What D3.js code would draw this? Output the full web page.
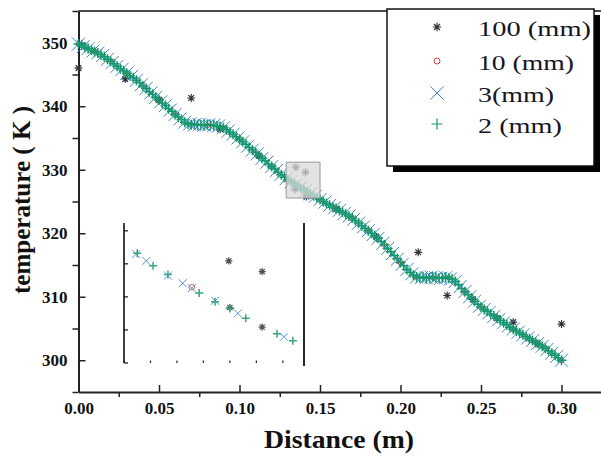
<!DOCTYPE html>
<html>
<head>
<meta charset="utf-8">
<script src="https://cdn.jsdelivr.net/npm/d3@7"></script>
<style>
  html, body { margin: 0; padding: 0; background: #fff; }
  svg { display: block; }
</style>
</head>
<body>
<svg id="chart" width="601" height="457"></svg>
<script>
// Temperature along the rod for four mesh sizes
const xTicks = [0, 0.05, 0.10, 0.15, 0.20, 0.25, 0.30];
const xMinorTicks = [0.025, 0.075, 0.125, 0.175, 0.225, 0.275, 0.325];
const yTicks = [300, 310, 320, 330, 340, 350];
const yMinorTicks = [295, 305, 315, 325, 335, 345, 355];
const seriesNames = ["100 (mm)", "10 (mm)", "3(mm)", "2 (mm)"];

// 3 mm mesh (node spacing 0.003 m)
const dist3 = [0.000,0.003,0.006,0.009,0.012,0.015,0.018,0.021,0.024,0.027,
  0.030,0.033,0.036,0.039,0.042,0.045,0.048,0.051,0.054,0.057,
  0.060,0.063,0.066,0.069,0.072,0.075,0.078,0.081,0.084,0.087,
  0.090,0.093,0.096,0.099,0.102,0.105,0.108,0.111,0.114,0.117,
  0.120,0.123,0.126,0.129,0.132,0.135,0.138,0.141,0.144,0.147,
  0.150,0.153,0.156,0.159,0.162,0.165,0.168,0.171,0.174,0.177,
  0.180,0.183,0.186,0.189,0.192,0.195,0.198,0.201,0.204,0.207,
  0.210,0.213,0.216,0.219,0.222,0.225,0.228,0.231,0.234,0.237,
  0.240,0.243,0.246,0.249,0.252,0.255,0.258,0.261,0.264,0.267,
  0.270,0.273,0.276,0.279,0.282,0.285,0.288,0.291,0.294,0.297,
  0.300];
const temp3 = [349.8,349.4,349.1,348.7,348.4,348.0,347.4,346.9,346.3,345.8,
  345.2,344.7,344.1,343.4,342.8,342.1,341.4,340.7,340.1,339.4,
  338.7,338.0,337.5,337.2,337.1,337.1,337.0,337.1,337.0,336.9,
  336.6,336.1,335.6,335.0,334.4,333.7,333.1,332.5,331.8,331.2,
  330.5,329.9,329.3,328.6,328.1,327.6,327.2,326.7,326.2,325.8,
  325.3,324.9,324.4,324.0,323.6,323.1,322.7,322.2,321.6,321.0,
  320.4,319.8,319.2,318.4,317.6,316.8,315.9,315.1,314.3,313.6,
  313.1,313.0,313.0,313.1,313.0,312.9,313.0,312.8,312.4,311.6,
  310.8,310.0,309.3,308.5,308.0,307.5,306.9,306.4,305.9,305.4,
  304.9,304.4,304.0,303.5,303.1,302.6,302.2,301.7,301.1,300.6,
  300.0];

// 2 mm mesh (node spacing 0.002 m)
const dist2 = [0.000,0.002,0.004,0.006,0.008,0.010,0.012,0.014,0.016,0.018,
  0.020,0.022,0.024,0.026,0.028,0.030,0.032,0.034,0.036,0.038,
  0.040,0.042,0.044,0.046,0.048,0.050,0.052,0.054,0.056,0.058,
  0.060,0.062,0.064,0.066,0.068,0.070,0.072,0.074,0.076,0.078,
  0.080,0.082,0.084,0.086,0.088,0.090,0.092,0.094,0.096,0.098,
  0.100,0.102,0.104,0.106,0.108,0.110,0.112,0.114,0.116,0.118,
  0.120,0.122,0.124,0.126,0.128,0.130,0.132,0.134,0.136,0.138,
  0.140,0.142,0.144,0.146,0.148,0.150,0.152,0.154,0.156,0.158,
  0.160,0.162,0.164,0.166,0.168,0.170,0.172,0.174,0.176,0.178,
  0.180,0.182,0.184,0.186,0.188,0.190,0.192,0.194,0.196,0.198,
  0.200,0.202,0.204,0.206,0.208,0.210,0.212,0.214,0.216,0.218,
  0.220,0.222,0.224,0.226,0.228,0.230,0.232,0.234,0.236,0.238,
  0.240,0.242,0.244,0.246,0.248,0.250,0.252,0.254,0.256,0.258,
  0.260,0.262,0.264,0.266,0.268,0.270,0.272,0.274,0.276,0.278,
  0.280,0.282,0.284,0.286,0.288,0.290,0.292,0.294,0.296,0.298,
  0.300];
const temp2 = [349.8,349.6,349.3,349.1,348.8,348.6,348.4,348.1,347.8,347.4,
  347.1,346.7,346.3,345.9,345.6,345.2,344.8,344.5,344.1,343.7,
  343.2,342.8,342.3,341.9,341.4,341.0,340.5,340.1,339.6,339.2,
  338.7,338.3,337.9,337.5,337.2,337.1,337.2,337.0,337.1,337.0,
  337.1,337.0,337.0,336.9,336.8,336.6,336.3,335.9,335.6,335.2,
  334.8,334.4,334.0,333.5,333.1,332.7,332.2,331.8,331.4,330.9,
  330.5,330.1,329.6,329.2,328.8,328.4,328.1,327.8,327.5,327.1,
  326.8,326.5,326.2,325.9,325.6,325.3,325.0,324.7,324.4,324.1,
  323.9,323.6,323.3,323.0,322.7,322.4,322.0,321.6,321.2,320.8,
  320.4,320.0,319.6,319.2,318.7,318.2,317.6,317.1,316.5,316.0,
  315.4,314.9,314.3,313.8,313.4,313.1,313.0,313.1,312.9,313.0,
  313.1,313.0,312.9,313.0,313.1,312.9,312.8,312.4,311.9,311.3,
  310.8,310.3,309.8,309.3,308.8,308.4,308.0,307.7,307.3,307.0,
  306.6,306.3,305.9,305.6,305.2,304.9,304.6,304.3,304.0,303.7,
  303.4,303.1,302.8,302.5,302.2,301.9,301.5,301.1,300.8,300.4,
  300.0];

// 10 mm mesh
const dist10 = [0.00,0.01,0.02,0.03,0.04,0.05,0.06,0.07,0.08,0.09,0.10,
  0.11,0.12,0.13,0.14,0.15,0.16,0.17,0.18,0.19,0.20,
  0.21,0.22,0.23,0.24,0.25,0.26,0.27,0.28,0.29,0.30];
const temp10 = [349.8,348.6,347.1,345.2,343.2,341.0,338.7,337.1,337.0,336.6,334.8,
  332.6,330.5,328.4,326.9,325.3,323.9,322.4,320.4,318.2,315.4,
  313.1,313.0,313.0,310.8,308.4,306.6,304.9,303.4,301.9,300.0];

// 100 mm mesh
const dist100 = [0.000,0.029,0.050,0.070,0.088,0.112,0.1345,0.135,0.141,0.1415,
  0.160,0.185,0.211,0.229,0.245,0.260,0.270,0.285,0.300];
const temp100 = [346.0,344.3,341.0,341.3,336.4,332.2,327.0,330.4,329.6,325.8,
  323.8,319.4,317.0,310.2,309.6,306.6,306.0,302.6,305.7];

// highlighted window on the curve
const zoomBoxX = [0.129, 0.150];
const zoomBoxT = [325.55, 331.2];

// magnified detail view
const insetX = [0.115, 0.149];
const insetT = [324.6, 331.8];
const insetXTicks = [0.115, 0.120, 0.125, 0.130, 0.135, 0.140, 0.145];
const insetTTicks = [324.6, 326.3, 328.0, 329.7, 331.4];
const insetDist100 = [0.1348, 0.1350, 0.1411, 0.1411];
const insetTemp100 = [329.85, 327.45, 329.3, 326.45];
const insetDist10 = [0.1278];
const insetTemp10 = [328.5];
const insetDist3 = [0.1173, 0.1192, 0.1233, 0.1261, 0.1278, 0.1322, 0.1365, 0.1452];
const insetTemp3 = [330.2, 329.85, 329.1, 328.7, 328.45, 327.8, 327.15, 325.95];
const insetDist2 = [0.1175, 0.1205, 0.1233, 0.1292, 0.1322, 0.1350, 0.1380, 0.1439, 0.1469];
const insetTemp2 = [330.25, 329.6, 329.15, 328.2, 327.75, 327.4, 326.9, 326.1, 325.75];

const serif = "'Liberation Serif','Times New Roman',serif";
const svg = d3.select("#chart");

const x = d3.scaleLinear().domain([0, 0.33]).range([78.5, 609.8]);
const y = d3.scaleLinear().domain([295, 355]).range([392, 11]);

// marker glyphs
const crossPath = s => `M${-s},${-s}L${s},${s}M${-s},${s}L${s},${-s}`;
const plusPath = s => `M${-s},0L${s},0M0,${-s}L0,${s}`;
const circlePath = r => `M${r},0A${r},${r} 0 1,1 ${-r},0A${r},${r} 0 1,1 ${r},0Z`;
const starPath = s => {
  const d = s * 0.72;
  return `M${-s},0L${s},0M0,${-s}L0,${s}M${-d},${-d}L${d},${d}M${-d},${d}L${d},${-d}`;
};

const styles = [
  { color: "#333333", width: 1.2, d: starPath(4),  inset: starPath(3.6), legend: starPath(4.2) },
  { color: "#d8453f", width: 1.0, d: circlePath(2.4), inset: circlePath(2.8), legend: circlePath(3) },
  { color: "#3c84d6", width: 1.0, d: crossPath(6.5), inset: crossPath(4), legend: crossPath(6.5) },
  { color: "#149868", width: 1.5, d: plusPath(5),  inset: plusPath(4), legend: plusPath(5.5) }
];
const seriesData = [
  d3.zip(dist100, temp100),
  d3.zip(dist10, temp10),
  d3.zip(dist3, temp3),
  d3.zip(dist2, temp2)
];
const insetData = [
  d3.zip(insetDist100, insetTemp100),
  d3.zip(insetDist10, insetTemp10),
  d3.zip(insetDist3, insetTemp3),
  d3.zip(insetDist2, insetTemp2)
];

// ---- axes ----
const axisColor = "#222";

const gy = svg.append("g").attr("transform", `translate(${x(0)},0)`);
gy.call(d3.axisLeft(y).tickValues(yTicks).tickSize(-7).tickSizeOuter(0)
  .tickPadding(11).tickFormat(d3.format("d")));
gy.call(g => g.select(".domain").attr("stroke", axisColor).attr("stroke-width", 2));
svg.append("g").attr("transform", `translate(${x(0)},0)`)
  .call(d3.axisLeft(y).tickValues(yMinorTicks).tickSize(6).tickFormat(""))
  .call(g => g.select(".domain").remove());

const gx = svg.append("g").attr("transform", `translate(0,${y(295)})`);
gx.call(d3.axisBottom(x).tickValues(xTicks).tickSize(-7).tickSizeOuter(0)
  .tickPadding(10).tickFormat(d3.format(".2f")));
gx.call(g => g.select(".domain").attr("stroke", axisColor).attr("stroke-width", 2));
svg.append("g").attr("transform", `translate(0,${y(295)})`)
  .call(d3.axisBottom(x).tickValues(xMinorTicks).tickSize(5).tickFormat(""))
  .call(g => g.select(".domain").remove());

svg.selectAll(".tick line").attr("stroke", axisColor).attr("stroke-width", 1.5);
svg.selectAll(".tick text")
  .attr("font-family", serif).attr("font-size", 17).attr("font-weight", "bold")
  .attr("fill", "#111");

// top frame line
svg.append("line")
  .attr("x1", x(0)).attr("x2", 601).attr("y1", y(355)).attr("y2", y(355))
  .attr("stroke", "#111").attr("stroke-width", 1.6);

// axis titles
svg.append("text")
  .attr("transform", "translate(30,200) rotate(-90)")
  .attr("text-anchor", "middle")
  .attr("font-family", serif).attr("font-size", 25).attr("font-weight", "bold")
  .attr("textLength", 188).attr("lengthAdjust", "spacingAndGlyphs")
  .attr("fill", "#111")
  .text("temperature ( K )");

svg.append("text")
  .attr("x", 339).attr("y", 448)
  .attr("text-anchor", "middle")
  .attr("font-family", serif).attr("font-size", 25).attr("font-weight", "bold")
  .attr("textLength", 150).attr("lengthAdjust", "spacingAndGlyphs")
  .attr("fill", "#111")
  .text("Distance (m)");

// ---- data points ----
function drawPoints(parent, data, style, sx, sy, shape) {
  parent.append("g")
    .attr("fill", "none")
    .attr("stroke", style.color)
    .attr("stroke-width", style.width)
    .selectAll("path")
    .data(data)
    .join("path")
    .attr("transform", d => `translate(${sx(d[0])},${sy(d[1])})`)
    .attr("d", shape);
}
const plot = svg.append("g");
seriesData.forEach((data, i) => drawPoints(plot, data, styles[i], x, y, styles[i].d));

// highlighted window
svg.append("rect")
  .attr("x", x(zoomBoxX[0])).attr("y", y(zoomBoxT[1]))
  .attr("width", x(zoomBoxX[1]) - x(zoomBoxX[0]))
  .attr("height", y(zoomBoxT[0]) - y(zoomBoxT[1]))
  .attr("fill", "#d9d9d9").attr("fill-opacity", 0.75)
  .attr("stroke", "#9a9a9a").attr("stroke-width", 1);

// ---- magnified view ----
const ix = d3.scaleLinear().domain(insetX).range([124, 304]);
const iy = d3.scaleLinear().domain(insetT).range([363, 223]);

const inset = svg.append("g");
const insetPts = inset.append("g").attr("opacity", 0.85);
insetData.forEach((data, i) => drawPoints(insetPts, data, styles[i], ix, iy, styles[i].inset));

inset.append("line").attr("x1", 124).attr("x2", 124).attr("y1", 223).attr("y2", 363)
  .attr("stroke", "#111").attr("stroke-width", 1.6);
inset.append("line").attr("x1", 304).attr("x2", 304).attr("y1", 223).attr("y2", 366)
  .attr("stroke", "#111").attr("stroke-width", 1.8);
inset.append("g").selectAll("line").data(insetTTicks).join("line")
  .attr("x1", 124).attr("x2", 128)
  .attr("y1", d => iy(d)).attr("y2", d => iy(d))
  .attr("stroke", "#111").attr("stroke-width", 1.2);
inset.append("g").selectAll("line").data(insetXTicks).join("line")
  .attr("x1", d => ix(d)).attr("x2", d => ix(d))
  .attr("y1", 363).attr("y2", 360.5)
  .attr("stroke", "#222").attr("stroke-width", 1.2);

// ---- legend ----
const legend = svg.append("g");
legend.append("rect").attr("x", 393).attr("y", 15).attr("width", 207).attr("height", 157)
  .attr("fill", "#000");
legend.append("rect").attr("x", 387).attr("y", 9).attr("width", 207).attr("height", 157)
  .attr("fill", "#fff").attr("stroke", "#111").attr("stroke-width", 1.5);

const rowY = [28, 62, 94, 125];
const textLen = [113, 96, 76, 84];
seriesNames.forEach((name, i) => {
  legend.append("path")
    .attr("transform", `translate(437,${rowY[i] - 1})`)
    .attr("d", styles[i].legend)
    .attr("fill", "none").attr("stroke", styles[i].color)
    .attr("stroke-width", i === 3 ? 1.2 : styles[i].width);
  legend.append("text")
    .attr("x", 478).attr("y", rowY[i] + 7.5)
    .attr("font-family", serif).attr("font-size", 22)
    .attr("textLength", textLen[i]).attr("lengthAdjust", "spacingAndGlyphs")
    .attr("fill", "#151525")
    .text(name);
});
</script>
</body>
</html>
